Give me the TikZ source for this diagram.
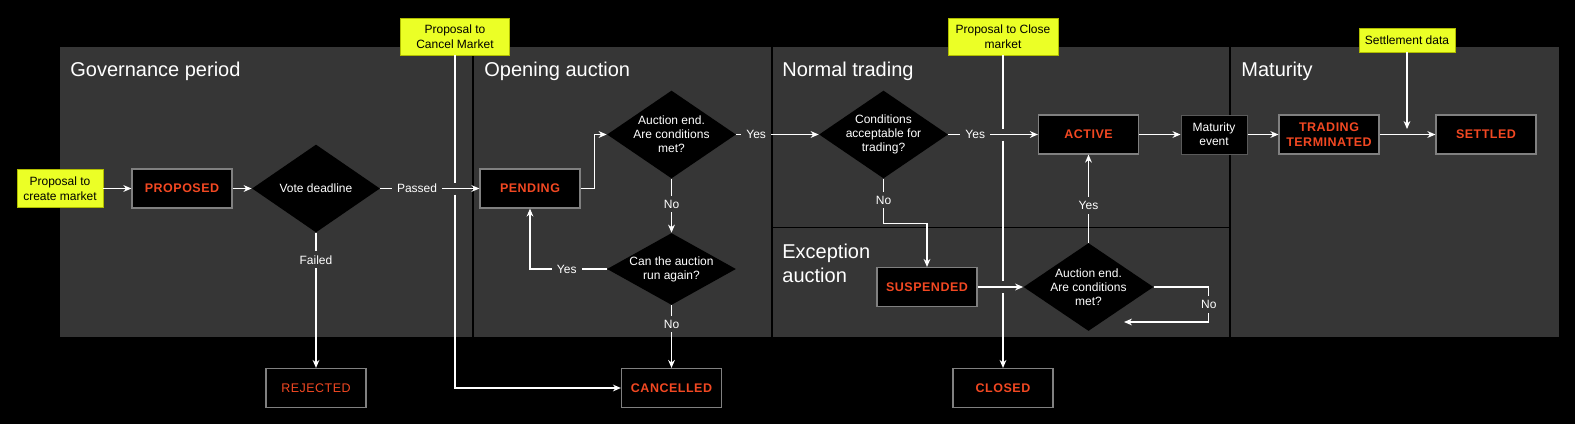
\documentclass[tikz,border=0pt]{standalone}
\usepackage{fontspec}
\setmainfont{Liberation Sans}
\newfontfamily\statefont[LetterSpace=4]{Liberation Sans}
\usetikzlibrary{shapes.geometric,arrows.meta,calc}
\definecolor{panel}{HTML}{363636}
\definecolor{stred}{HTML}{F24822}
\definecolor{propyel}{HTML}{EBFF26}
\definecolor{yelborder}{HTML}{B0BC00}
\definecolor{boxgray}{HTML}{808080}
\definecolor{evgray}{HTML}{5A5A5A}
\begin{document}
\begin{tikzpicture}[x=0.5pt,y=-0.5pt,
  smalltext/.style={font={\fontsize{6}{7}\selectfont}},
  statebox/.style={draw=boxgray, line width=0.6pt, fill=black, minimum width=50pt, minimum height=19.5pt, inner sep=0pt, text=stred, align=center, font={\statefont\bfseries\fontsize{6.25}{7.8}\selectfont}},
  endbox/.style={statebox, font={\statefont\fontsize{6.25}{7.8}\selectfont}},
  propbox/.style={draw=yelborder, line width=0.4pt, fill=propyel, text=black, inner sep=0pt, align=center, font={\fontsize{6}{7.3}\selectfont}},
  decision/.style={diamond, fill=black, inner sep=-15pt, text=white, align=center, font={\fontsize{6}{7}\selectfont}},
  evbox/.style={draw=evgray, line width=0.5pt, fill=black, text=white, minimum width=33pt, minimum height=19.5pt, inner sep=0pt, align=center, font={\fontsize{6}{7}\selectfont}},
  title/.style={text=white, inner sep=0pt, font={\fontsize{10}{12}\selectfont}},
  lbl/.style={fill=panel, text=white, inner xsep=2.5pt, inner ysep=2pt, font={\fontsize{6}{7}\selectfont}},
  conn/.style={draw=white, line width=0.55pt, -{Stealth[length=4pt,width=3.4pt]}},
  plain/.style={draw=white, line width=0.55pt}
]
\useasboundingbox (0,0) rectangle (1575,424);
\fill[black] (0,0) rectangle (1575,424);
% panels
\fill[panel] (60,47) rectangle (472,337);
\fill[panel] (474,47) rectangle (771,337);
\fill[panel] (772.5,47) rectangle (1229,226.5);
\fill[panel] (772.5,228) rectangle (1229,337);
\fill[panel] (1230.5,47) rectangle (1559,337);
% titles
\node[title, anchor=base west] (tgov) at (70,76) {Governance period};
\node[title, anchor=base west] (topen) at (484,76) {Opening auction};
\node[title, anchor=base west] (tnorm) at (782,76) {Normal trading};
\node[title, anchor=west, align=left] (texc) at (782,263) {Exception\\auction};
\node[title, anchor=base west] (tmat) at (1241,76) {Maturity};
% nodes
\node[propbox, minimum width=43pt, minimum height=19pt] (create) at (60,188.5) {Proposal to\\create market};
\node[statebox] (proposed) at (182,188.5) {PROPOSED};
\node[decision, minimum width=64pt, minimum height=44pt] (vote) at (316,188.5) {Vote deadline};
\node[endbox] (rejected) at (316,388) {REJECTED};
\node[propbox, minimum width=54.5pt, minimum height=18.5pt] (cancelp) at (455,36.5) {Proposal to\\Cancel Market};
\node[statebox] (pending) at (530,188.5) {PENDING};
\node[decision, minimum width=64.5pt, minimum height=44pt] (auc) at (671.5,134.5) {Auction end.\\Are conditions\\met?};
\node[decision, minimum width=64.5pt, minimum height=36pt] (canrun) at (671.5,269) {Can the auction\\run again?};
\node[statebox] (cancelled) at (671.5,388) {CANCELLED};
\node[decision, minimum width=64.5pt, minimum height=44pt] (cond) at (883.5,134.5) {Conditions\\acceptable for\\trading?};
\node[propbox, minimum width=55pt, minimum height=18.5pt] (closep) at (1003,36.5) {Proposal to Close\\market};
\node[statebox] (active) at (1088.5,134.5) {ACTIVE};
\node[statebox] (susp) at (927,287) {SUSPENDED};
\node[decision, minimum width=65pt, minimum height=44pt] (exc) at (1088.5,287) {Auction end.\\Are conditions\\met?};
\node[statebox] (closed) at (1003,388) {CLOSED};
\node[evbox] (matev) at (1214,134.5) {Maturity\\event};
\node[statebox] (tt) at (1329,134.5) {TRADING\\TERMINATED};
\node[statebox] (settled) at (1486,134.5) {SETTLED};
\node[propbox, minimum width=48pt, minimum height=12pt] (settp) at (1407,40) {Settlement data};
\coordinate (settend) at (1407,129);
\coordinate (excret) at (1124,322);
% cancel line (drawn before the Passed arrow)
\draw[conn] (cancelp.south) -- ($(cancelp.south |- pending.west)+(0,-6)$)
  ($(cancelp.south |- pending.west)+(0,6)$) -- (cancelp.south |- cancelled.west) -- (cancelled.west);
% close line
\draw[conn] (closep.south) -- ($(closep.south |- active.west)+(0,-6)$)
  ($(closep.south |- active.west)+(0,6)$) -- ($(closep.south |- susp.east)+(0,-6)$)
  ($(closep.south |- susp.east)+(0,6)$) -- (closed.north);
% connectors
\draw[conn] (create.east) -- (proposed.west);
\draw[conn] (proposed.east) -- (vote.west);
\draw[conn] (vote.east) -- node[lbl, pos=0.37] {Passed} (pending.west);
\draw[conn] (vote.south) -- node[lbl, pos=0.2] {Failed} (rejected.north);
\draw[conn] (pending.east) -- ++(14,0) |- (auc.west);
\draw[conn] (auc.east) -- node[lbl, pos=0.24] {Yes} (cond.west);
\draw[conn] (auc.south) -- node[lbl, pos=0.47] {No} (canrun.north);
\draw[conn] (canrun.west) -| node[lbl, pos=0.26] {Yes} (pending.south);
\draw[conn] (canrun.south) -- node[lbl, pos=0.3] {No} (cancelled.north);
\draw[conn] (cond.east) -- node[lbl, pos=0.3] {Yes} (active.west);
\draw[conn] (cond.south) -- node[lbl, pos=0.47] {No} ++(0,45) -| (susp.north);
\draw[conn] (susp.east) -- (exc.west);
\draw[conn] (exc.north) -- node[lbl, pos=0.42] {Yes} (active.south);
\draw[conn] (exc.east) -- ++(55,0) -- node[lbl, pos=0.5] {No} ++(0,35) -- (excret);
\draw[conn] (active.east) -- (matev.west);
\draw[conn] (matev.east) -- (tt.west);
\draw[conn] (tt.east) -- (settled.west);
\draw[conn] (settp.south) -- (settend);
\end{tikzpicture}
\end{document}
